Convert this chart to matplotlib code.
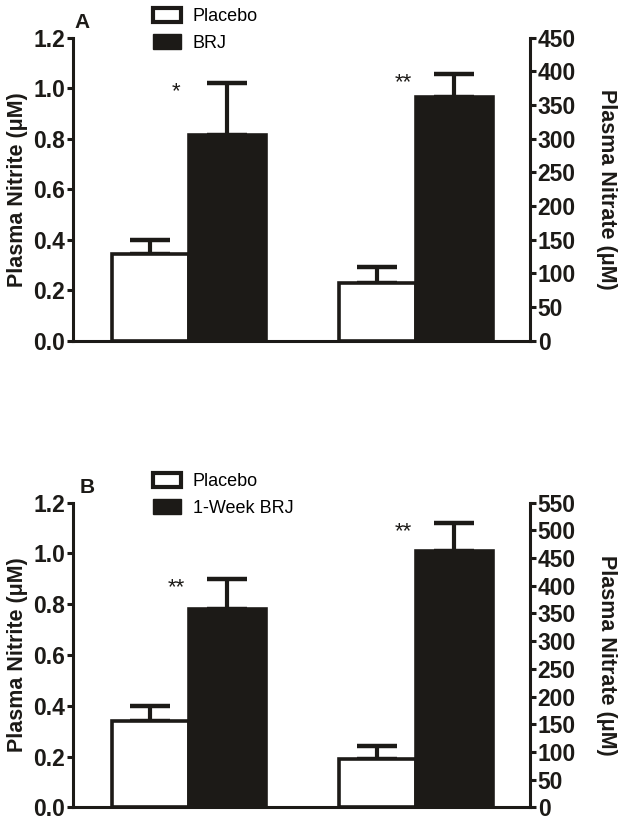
import matplotlib
matplotlib.use("Agg")
import matplotlib.pyplot as plt
from matplotlib.patches import Patch
import numpy as np

plt.rcParams['font.family'] = ['Liberation Sans', 'DejaVu Sans']

# ---------------- data ----------------
groups = ["Nitrite", "Nitrate"]
legend_A = ["Placebo", "BRJ"]
legend_B = ["Placebo", "1-Week BRJ"]

# Panel A
A_nitrite_mean = [0.343, 0.814]
A_nitrite_sem = [0.057, 0.207]
A_nitrate_mean = [86, 362]
A_nitrate_sem = [23, 34]
A_stars = ["*", "**"]

# Panel B
B_nitrite_mean = [0.341, 0.781]
B_nitrite_sem = [0.057, 0.117]
B_nitrate_mean = [87, 462]
B_nitrate_sem = [23, 51]
B_stars = ["**", "**"]

left_ticks = [0.0, 0.2, 0.4, 0.6, 0.8, 1.0, 1.2]
A_right_ticks = list(range(0, 451, 50))
B_right_ticks = list(range(0, 551, 50))

DARK = '#1c1a17'
W = 624
H = 823
fig = plt.figure(figsize=(W / 100, H / 100), dpi=100)


def px_axes(x0, y0, x1, y1):
    return fig.add_axes([x0 / W, 1 - y1 / H, (x1 - x0) / W, (y1 - y0) / H])


def panel(ax_box, nit_m, nit_e, nra_m, nra_e, stars, rticks, legend_labels,
          letter, letter_xy, leg_xy):
    ax = px_axes(*ax_box)
    ax2 = ax.twinx()
    pos_nitrite = [1.0, 2.0]
    pos_nitrate = [3.95, 4.95]
    faces = ['white', DARK]
    bw = 1.0
    # nitrite bars (left axis)
    for i in range(2):
        ax.errorbar(pos_nitrite[i], nit_m[i], yerr=[[0], [nit_e[i]]], fmt='none',
                    ecolor=DARK, elinewidth=3, capsize=14.5, capthick=3.2, zorder=1)
        ax.bar(pos_nitrite[i], nit_m[i], width=bw, color=faces[i], edgecolor=DARK,
               linewidth=2.6, zorder=2)
    for i in range(2):
        ax2.errorbar(pos_nitrate[i], nra_m[i], yerr=[[0], [nra_e[i]]], fmt='none',
                     ecolor=DARK, elinewidth=3, capsize=14.5, capthick=3.2, zorder=1)
        ax2.bar(pos_nitrate[i], nra_m[i], width=bw, color=faces[i], edgecolor=DARK,
                linewidth=2.6, zorder=2)
    # significance stars
    ax.annotate(stars[0], xy=(pos_nitrite[1] - 0.66, nit_m[1] + nit_e[1]),
                xytext=(0, -10), textcoords='offset points', ha='center',
                va='baseline', fontsize=16, color=DARK)
    ax2.annotate(stars[1], xy=(pos_nitrate[1] - 0.66, nra_m[1] + nra_e[1]),
                 xytext=(0, -10), textcoords='offset points', ha='center',
                 va='baseline', fontsize=16, color=DARK)

    ax.set_xlim(0, 5.93)
    ax.set_ylim(0, 1.2)
    ax2.set_ylim(0, rticks[-1])
    ax.set_yticks(left_ticks)
    ax.set_yticklabels([f"{t:.1f}" for t in left_ticks])
    ax2.set_yticks(rticks)
    ax2.set_yticklabels([str(t) for t in rticks])
    ax.set_xticks([])
    for a in (ax, ax2):
        a.spines['top'].set_visible(False)
        for s in a.spines.values():
            s.set_linewidth(2.2)
            s.set_color(DARK)
        a.tick_params(axis='y', direction='out', length=4, width=2.2, color=DARK,
                      labelsize=16.5, pad=1.5, labelcolor=DARK)
        for lab in a.get_yticklabels():
            lab.set_fontweight('bold')
    ax.spines['right'].set_visible(False)
    ax2.spines['left'].set_visible(False)
    ax2.spines['bottom'].set_visible(False)
    ax.set_ylabel("Plasma Nitrite (\u03bcM)", fontsize=15.5, fontweight='bold',
                  color=DARK)
    ax.yaxis.set_label_coords((28 - ax_box[0]) / (ax_box[2] - ax_box[0]), 0.5)
    ax2.set_ylabel("Plasma Nitrate (\u03bcM)", fontsize=15.5, fontweight='bold',
                   color=DARK, rotation=270, va='bottom')
    ax2.yaxis.set_label_coords((596 - ax_box[0]) / (ax_box[2] - ax_box[0]), 0.5)
    fig.text(letter_xy[0] / W, 1 - letter_xy[1] / H, letter, fontsize=15,
             fontweight='bold', ha='center', va='center', color=DARK)
    handles = [Patch(facecolor='white', edgecolor=DARK, linewidth=3),
               Patch(facecolor=DARK, edgecolor=DARK, linewidth=1)]
    ax.legend(handles, legend_labels, loc='upper left',
              bbox_to_anchor=(leg_xy[0] / W, 1 - leg_xy[1] / H),
              bbox_transform=fig.transFigure, frameon=False, fontsize=13,
              handlelength=1.55, handleheight=0.85, handletextpad=0.65,
              labelspacing=0.5, borderpad=0, borderaxespad=0)
    return ax, ax2


panel((73, 37.7, 530, 340.7), A_nitrite_mean, A_nitrite_sem, A_nitrate_mean,
      A_nitrate_sem, A_stars, A_right_ticks, legend_A, "A", (82, 23), (153, 8))
panel((73, 502.7, 530, 807.3), B_nitrite_mean, B_nitrite_sem, B_nitrate_mean,
      B_nitrate_sem, B_stars, B_right_ticks, legend_B, "B", (87, 487), (153, 473))

fig.savefig("out.png", dpi=100)
